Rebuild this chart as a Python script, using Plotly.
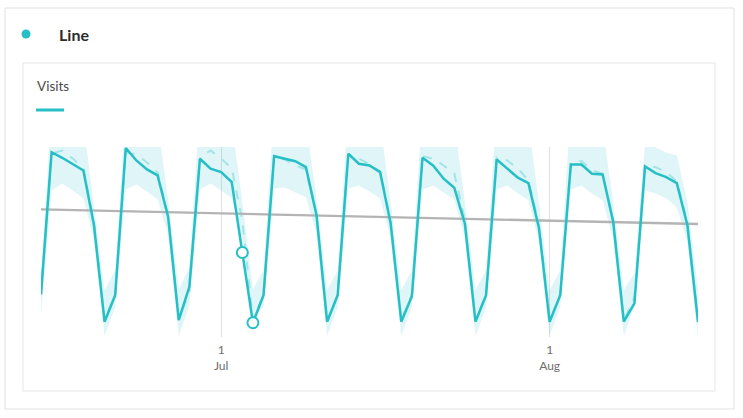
import plotly.graph_objects as go
import pandas as pd

# ---- data ----
start_date = "2020-06-14"
end_date = "2020-08-15"
dates = pd.date_range(start_date, end_date, freq="D")

visits = [854, 3706, 3594, 3460, 3340, 2240, 306,
          840, 3790, 3540, 3360, 3240, 2406, 340,
          1006, 3574, 3374, 3306, 3106, 1694, 286,
          840, 3626, 3574, 3526, 3406, 2440, 306,
          840, 3674, 3474, 3440, 3306, 2274, 306,
          820, 3594, 3440, 3174, 2994, 2274, 306,
          840, 3560, 3374, 3194, 3086, 2174, 306,
          840, 3460, 3460, 3274, 3260, 2306, 306,
          674, 3420, 3286, 3206, 3086, 2240, 306]

expected = [860, 3680, 3740, 3580, 3380, 2300, 330,
            860, 3700, 3660, 3500, 3300, 2450, 360,
            900, 3600, 3740, 3580, 3380, 2340, 340,
            860, 3640, 3560, 3440, 3360, 2460, 330,
            860, 3660, 3580, 3460, 3320, 2320, 330,
            860, 3620, 3580, 3440, 3280, 2350, 330,
            860, 3600, 3540, 3380, 3140, 2250, 330,
            860, 3500, 3526, 3340, 3280, 2340, 330,
            800, 3440, 3406, 3306, 3120, 2300, 330]

upper = [1200, 4600, 4600, 4500, 4300, 2650, 940,
         1340, 4600, 4600, 4500, 4300, 2750, 960,
         1400, 4600, 4600, 4500, 4300, 2700, 960,
         1340, 4600, 4600, 4500, 4300, 2780, 940,
         1340, 4600, 4600, 4500, 4300, 2700, 940,
         1340, 4600, 4600, 4500, 4300, 2700, 940,
         1340, 4600, 4600, 4500, 4300, 2650, 940,
         1340, 4600, 4600, 4400, 4200, 2700, 940,
         1280, 3900, 3800, 3700, 3640, 2700, 940]

lower = [440, 2940, 3080, 2940, 2780, 1950, 20,
         600, 2960, 3060, 2920, 2760, 2050, 20,
         620, 2960, 3080, 2940, 2780, 1960, 380,
         600, 2980, 3000, 2900, 2800, 2080, 20,
         600, 2980, 3040, 2920, 2780, 1980, 20,
         600, 2960, 3040, 2900, 2760, 1980, 20,
         600, 2960, 3040, 2880, 2740, 1900, 20,
         600, 2960, 3040, 2880, 2740, 1960, 20,
         620, 2940, 2880, 2780, 2600, 1900, 20]

trend_values = [2560, 2266]           # trend line at first and last day
anomaly_dates = ["2020-07-03", "2020-07-04"]
anomaly_values = [1694, 286]

tick_vals = ["2020-07-01", "2020-08-01"]
tick_text = ["1<br>Jul", "1<br>Aug"]

title_text = "Line"
metric_text = "Visits"

# ---- style ----
TEAL = "#26bfc6"
BAND = "rgba(38,191,198,0.15)"
DASH = "#a4e3e6"
GRAY = "#b4b4b4"
FONT = "Lato"

W, H = 743, 418
L_PX, R_PX, T_PX, B_PX = 41, 698, 147, 337
pw, ph = R_PX - L_PX, B_PX - T_PX


def px(x):
    return (x - L_PX) / pw


def py(y):
    return (B_PX - y) / ph


fig = go.Figure()

fig.add_trace(go.Scatter(x=dates, y=lower, mode="lines", line=dict(width=0),
                         hoverinfo="skip", showlegend=False))
fig.add_trace(go.Scatter(x=dates, y=upper, mode="lines", line=dict(width=0),
                         fill="tonexty", fillcolor=BAND,
                         hoverinfo="skip", showlegend=False))
fig.add_trace(go.Scatter(x=dates, y=expected, mode="lines",
                         line=dict(color=DASH, width=2, dash="dash"),
                         showlegend=False))
fig.add_trace(go.Scatter(x=[dates[0], dates[-1]], y=trend_values, mode="lines",
                         line=dict(color=GRAY, width=2.3), showlegend=False))
fig.add_trace(go.Scatter(x=dates, y=visits, mode="lines",
                         line=dict(color=TEAL, width=2.5), showlegend=False))
fig.add_trace(go.Scatter(x=pd.to_datetime(anomaly_dates), y=anomaly_values,
                         mode="markers",
                         marker=dict(size=11, color="white",
                                     line=dict(color=TEAL, width=2)),
                         showlegend=False, cliponaxis=False))

shapes = [
    # outer card
    dict(type="rect", xref="paper", yref="paper",
         x0=px(5), x1=px(734), y0=py(8), y1=py(409),
         line=dict(color="#e1e1e1", width=1), fillcolor="rgba(0,0,0,0)", layer="below"),
    # inner card
    dict(type="rect", xref="paper", yref="paper",
         x0=px(23), x1=px(715), y0=py(63), y1=py(391),
         line=dict(color="#e6e6e6", width=1), fillcolor="rgba(0,0,0,0)", layer="below"),
    # legend dot
    dict(type="circle", xref="paper", yref="paper",
         x0=px(21.5), x1=px(30.5), y0=py(29.5), y1=py(38.5),
         line=dict(width=0), fillcolor=TEAL),
    # metric underline
    dict(type="line", xref="paper", yref="paper",
         x0=px(36), x1=px(64), y0=py(110), y1=py(110),
         line=dict(color=TEAL, width=3)),
]

annotations = [
    dict(text=f"<b>{title_text}</b>", xref="paper", yref="paper",
         x=px(57), y=py(35), xanchor="left", yanchor="middle", showarrow=False,
         font=dict(family=FONT, size=16, color="#2c2c2c")),
    dict(text=metric_text, xref="paper", yref="paper",
         x=px(35), y=py(86), xanchor="left", yanchor="middle", showarrow=False,
         font=dict(family=FONT, size=13.5, color="#4b4b4b")),
]

fig.update_layout(
    width=W, height=H,
    margin=dict(l=L_PX, r=W - R_PX, t=T_PX, b=H - B_PX, pad=0),
    paper_bgcolor="white", plot_bgcolor="white",
    font=dict(family=FONT, size=12, color="#6e6e6e"),
    shapes=shapes, annotations=annotations,
    showlegend=False,
    xaxis=dict(type="date", range=[dates[0], dates[-1]],
               tickvals=pd.to_datetime(tick_vals), ticktext=tick_text,
               showgrid=True, gridcolor="#e1e1e1", gridwidth=1,
               zeroline=False, showline=False, ticks="",
               ticklabelstandoff=4,
               tickfont=dict(family=FONT, size=12, color="#6e6e6e")),
    yaxis=dict(range=[0, 3810], visible=False, showgrid=False, zeroline=False),
)

fig.write_html("out.html",
               config={"displayModeBar": False},
               post_script="document.body.style.margin='0';document.body.style.overflow='hidden';")
